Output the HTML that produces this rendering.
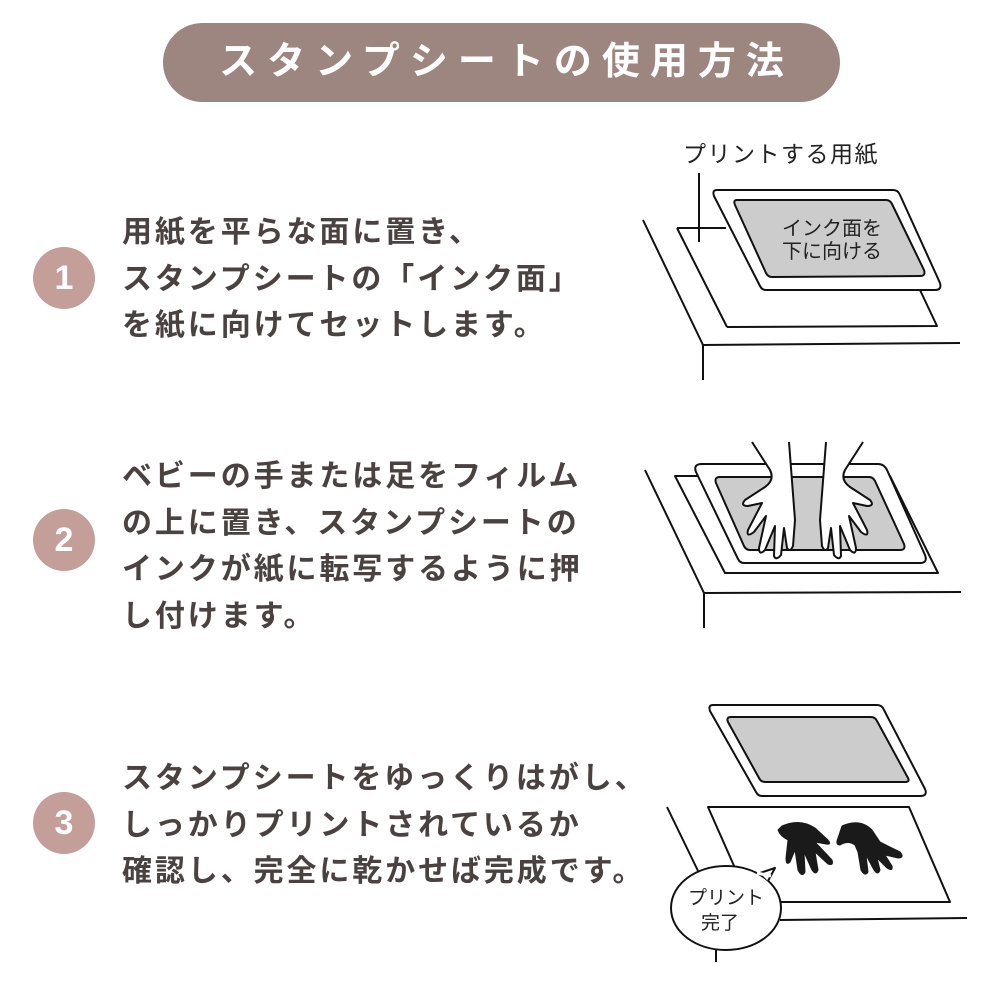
<!DOCTYPE html>
<html><head><meta charset="utf-8"><style>
body{margin:0;width:1000px;height:1000px;background:#fff;position:relative;overflow:hidden;font-family:"Liberation Sans","Noto Sans CJK JP",sans-serif}
.pill{position:absolute;left:163px;top:23px;width:677px;height:79px;border-radius:40px;background:#9d8580;color:#fff;font-size:38px;font-weight:bold;text-align:center;line-height:79px;letter-spacing:10px;text-indent:10px}
.c{position:absolute;width:62px;height:62px;border-radius:50%;background:#c49e98;color:#fff;font-size:34px;font-weight:bold;text-align:center;line-height:62px;left:33px}
.t{position:absolute;left:122px;color:#4a4240;font-size:30px;font-weight:bold;line-height:46.5px;letter-spacing:2.9px;white-space:nowrap}
svg{position:absolute;left:0;top:0}
</style></head><body>
<div class="pill">スタンプシートの使用方法</div>
<div class="c" style="top:247px">1</div>
<div class="c" style="top:509px">2</div>
<div class="c" style="top:792px">3</div>
<div class="t" style="top:210px">用紙を平らな面に置き、<br>スタンプシートの「インク面」<br>を紙に向けてセットします。</div>
<div class="t" style="top:454px">ベビーの手または足をフィルム<br>の上に置き、スタンプシートの<br>インクが紙に転写するように押<br>し付けます。</div>
<div class="t" style="top:756px">スタンプシートをゆっくりはがし、<br>しっかりプリントされているか<br>確認し、完全に乾かせば完成です。</div>
<svg width="1000" height="1000" viewBox="0 0 1000 1000" fill="none" stroke="#111" stroke-width="2" stroke-linejoin="round">
<text x="683" y="162" fill="#222" stroke="none" font-size="23" letter-spacing="1.5" font-family="Liberation Sans,Noto Sans CJK JP,sans-serif">プリントする用紙</text>
<path d="M643,220 L703,345 L960,343 M703,345 L703,380"/>
<path d="M677,228 L726,228 M727,327 L937,326 L920,290 M677,228 L727,327" fill="#fff"/>
<path d="M699,173 L699,242"/>
<path d="M717,190 L893,190 Q898,190 900,195 L940,283 Q942,290 935,290 L766,290 Q762,290 760,286 L714,196 Q712,190 717,190Z" fill="#fff"/>
<path d="M737,200 L886,200 Q890,200 892,204 L924,270 Q926,276 920,276 L772,277 Q768,277 766,273 L735,205 Q733,200 737,200Z" fill="#ccc"/>
<text x="832" y="235" fill="#222" stroke="none" font-size="20" text-anchor="middle" font-family="Liberation Sans,Noto Sans CJK JP,sans-serif">インク面を</text>
<text x="832" y="258" fill="#222" stroke="none" font-size="20" text-anchor="middle" font-family="Liberation Sans,Noto Sans CJK JP,sans-serif">下に向ける</text>
<path d="M645,470 L704,593 L961,592 M704,593 L704,628"/>
<path d="M675,476 L725,573 L938,573 L890,476Z" fill="#fff"/>
<path d="M702,464 L878,464 Q884,464 887,470 L925,555 Q928,563 920,563 L744,563 Q740,563 738,559 L696,472 Q693,464 702,464Z" fill="#fff"/>
<path d="M720,477 L869,477 Q873,477 875,481 L904,544 Q906,550 900,550 L750,550 Q746,550 744,546 L716,483 Q714,477 720,477Z" fill="#ccc"/>
<g id="lh" fill="#fff">
<path d="M752,442 L770,470 Q775,480 765,487 L745,500 Q740,506 748,506 L762,503 L748,530 Q746,538 754,532 L766,516 L759,548 Q759,556 765,550 L775,526 L774,556 Q776,561 781,555 L784,528 L787,548 Q790,553 793,546 L795,520 L789,442"/>
</g>
<use href="#lh" transform="translate(1615,0) scale(-1,1)"/>
<path d="M667,807 L700,875 M780,920 L967,918 M716,950 L716,962"/>
<path d="M708,807 L909,807 L950,902 L750,902Z" fill="#fff"/>
<path d="M713,705 L877,705 Q882,705 884,710 L925,789 Q928,796 920,796 L762,796 Q758,796 756,792 L710,711 Q708,705 713,705Z" fill="#fff"/>
<path d="M731,717 L871,717 Q875,717 877,721 L908,778 Q910,782 905,782 L765,782 Q761,782 759,778 L728,722 Q726,717 731,717Z" fill="#ccc"/>
<g fill="#1a1a1a" stroke="#1a1a1a" stroke-width="1">
<path d="M782,826 Q800,818 815,828 L828,840 Q832,845 826,844 L815,842 L832,860 Q834,866 828,864 L815,852 L818,870 Q816,876 812,870 L804,852 L805,872 Q802,878 798,870 L795,850 L790,862 Q786,866 786,858 L788,840 Q780,836 778,830Z"/>
<path d="M842,826 Q860,818 872,830 L880,842 L900,852 Q905,858 898,858 L885,855 L892,866 Q893,872 887,868 L877,858 L880,870 Q878,876 874,870 L866,855 L868,872 Q865,877 861,870 L858,852 L855,845 Q848,840 840,845 Q835,845 838,838Z"/>
</g>
<path d="M726,866 C756,866 781,884 781,908 C781,932 756,950 726,950 C696,950 671,932 671,908 C671,884 696,866 726,866Z" fill="#fff"/>
<path d="M760,873 L775,868 L768,881" fill="#fff"/>
<path d="M757,873 L771,876" stroke="#fff" stroke-width="3"/>
<text x="726" y="904" fill="#222" stroke="none" font-size="19" text-anchor="middle" font-family="Liberation Sans,Noto Sans CJK JP,sans-serif">プリント</text>
<text x="720" y="929" fill="#222" stroke="none" font-size="19" text-anchor="middle" font-family="Liberation Sans,Noto Sans CJK JP,sans-serif">完了</text>
</svg>
</body></html>
